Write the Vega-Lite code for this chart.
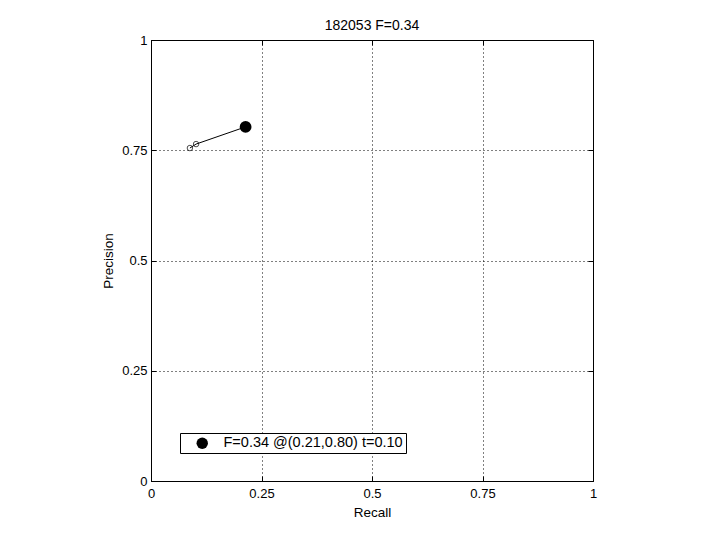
{
  "$schema": "https://vega.github.io/schema/vega-lite/v6.json",
  "width": 442,
  "height": 441,
  "autosize": {"type": "none"},
  "padding": {"left": 151, "top": 40, "right": 127, "bottom": 59},
  "background": "white",
  "title": {"text": "182053 F=0.34", "fontSize": 14, "fontWeight": "normal", "font": "Liberation Sans", "color": "black", "offset": 1},
  "config": {
    "view": {"stroke": "black", "strokeWidth": 1},
    "axis": {
      "labelFont": "Liberation Sans", "titleFont": "Liberation Sans",
      "labelFontSize": 13, "titleFontSize": 13.5, "titleFontWeight": "normal",
      "labelColor": "black", "titleColor": "black",
      "domainColor": "black", "tickColor": "black",
      "gridColor": "black", "gridDash": [1, 3], "gridOpacity": 1,
      "tickSize": -5, "format": ".2~f", "labelFlush": false
    }
  },
  "resolve": {"axis": {"x": "independent", "y": "independent"}},
  "data": {"values": [
    {"recall": 0.088, "precision": 0.755, "kind": "curve"},
    {"recall": 0.102, "precision": 0.764, "kind": "curve"},
    {"recall": 0.214, "precision": 0.803, "kind": "best"}
  ]},
  "layer": [
    {
      "mark": {"type": "line", "color": "black", "strokeWidth": 1},
      "encoding": {
        "x": {"field": "recall", "type": "quantitative", "scale": {"domain": [0, 1]},
              "axis": {"values": [0, 0.25, 0.5, 0.75, 1], "title": "Recall", "titlePadding": 5, "labelPadding": 11, "grid": true}},
        "y": {"field": "precision", "type": "quantitative", "scale": {"domain": [0, 1]},
              "axis": {"values": [0, 0.25, 0.5, 0.75, 1], "title": "Precision", "titlePadding": 6, "labelPadding": 9, "grid": true}}
      }
    },
    {
      "transform": [{"filter": "datum.kind == 'curve'"}],
      "mark": {"type": "point", "shape": "circle", "filled": false, "color": "black", "size": 30, "strokeWidth": 1},
      "encoding": {
        "x": {"field": "recall", "type": "quantitative",
              "axis": {"orient": "top", "values": [0, 0.25, 0.5, 0.75, 1], "labels": false, "title": null, "grid": false, "domain": false}},
        "y": {"field": "precision", "type": "quantitative",
              "axis": {"orient": "right", "values": [0, 0.25, 0.5, 0.75, 1], "labels": false, "title": null, "grid": false, "domain": false}}
      }
    },
    {
      "transform": [{"filter": "datum.kind == 'best'"}, {"calculate": "'F=0.34 @(0.21,0.80) t=0.10'", "as": "label"}],
      "mark": {"type": "point", "shape": "circle", "filled": true, "size": 140, "opacity": 1},
      "encoding": {
        "x": {"field": "recall", "type": "quantitative", "axis": null},
        "y": {"field": "precision", "type": "quantitative", "axis": null},
        "fill": {"field": "label", "type": "nominal", "scale": {"range": ["black"]},
                 "legend": {"title": null, "orient": "none", "legendX": 29, "legendY": 393,
                            "strokeColor": "black", "fillColor": "white", "padding": 3,
                            "labelFont": "Liberation Sans", "labelFontSize": 14.5, "labelColor": "black", "labelLimit": 400,
                            "symbolSize": 130, "symbolType": "circle", "symbolFillColor": "black", "symbolStrokeWidth": 0,
                            "symbolOffset": 12, "labelOffset": 14, "cornerRadius": 0}}
      }
    }
  ]
}
